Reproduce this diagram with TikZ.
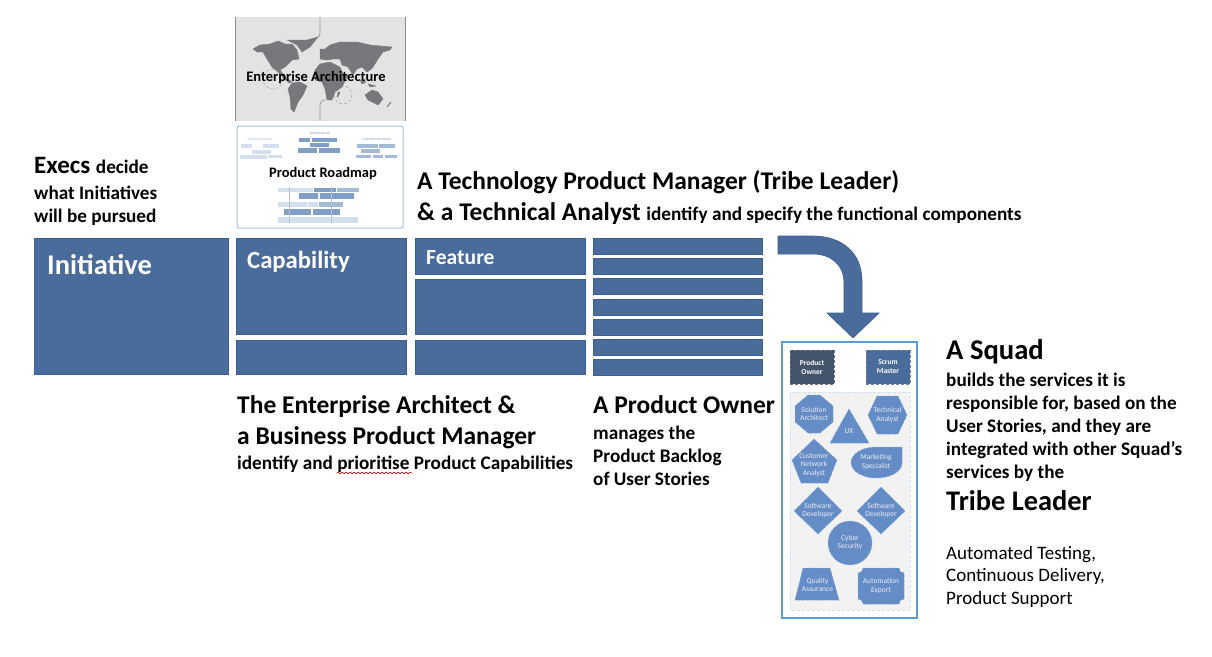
\documentclass[tikz,border=0pt]{standalone}
\usepackage{fontspec}
\setmainfont{Carlito}
\usetikzlibrary{decorations.pathmorphing}
\definecolor{blockblue}{HTML}{4A6C9B}
\definecolor{blockedge}{HTML}{3A5F9A}
\definecolor{rolefill}{HTML}{648DC8}
\definecolor{squadedge}{HTML}{5B9BD5}
\definecolor{paneledge}{HTML}{CFE2F3}
\definecolor{slate}{HTML}{44546A}
\definecolor{mapgrey}{HTML}{76787B}
\definecolor{roaddark}{HTML}{7F9FC6}
\definecolor{roadmid}{HTML}{A3BBD9}
\definecolor{roadlight}{HTML}{D3DFEE}
\begin{document}
\begin{tikzpicture}[x=1pt,y=-1pt,
    block/.style={draw=blockedge, fill=blockblue, line width=0.8pt, inner sep=0pt},
    blocktext/.style={text=white, font=\bfseries\fontsize{#1}{#1}\selectfont, inner sep=0pt, anchor=base west},
    say/.style={font=\bfseries\fontsize{#1}{#1}\selectfont, inner sep=0pt, anchor=base west},
    plain/.style={font=\fontsize{19}{19}\selectfont, inner sep=0pt, anchor=base west},
    land/.style={fill=mapgrey, draw=mapgrey, line width=0.4pt, line join=round},
    role/.style={draw=rolefill!80!white, fill=rolefill, densely dashed, line width=0.5pt},
    rolelabel/.style={text=white!92!black, font=\fontsize{7.5}{8.6}\selectfont, align=center, inner sep=0pt},
    lead/.style={draw=#1!80!white, densely dashed, fill=#1, minimum width=44pt, minimum height=34pt, inner sep=0pt,
        text=white, font=\bfseries\fontsize{7.5}{9}\selectfont, align=center}
]
\useasboundingbox (0,0) rectangle (1212,656);

% -------- Enterprise architecture map --------
\fill[black!11] (235,17) rectangle (405,121);
\draw[black!45, line width=0.8pt] (235,17) -- (235,121) (405,17) -- (405,121);
\draw[black!40, line width=0.8pt] (320,17) -- (320,33) .. controls (320,37) and (316,39) .. (312,40);
\draw[black!40, line width=0.8pt] (320,121) -- (320,105) .. controls (320,102) and (322,100) .. (325,100);
\fill[land] (253,49) -- (260,45) -- (270,44) -- (278,41) -- (285,44) -- (292,44) -- (297,50) -- (299,59) -- (292,60) -- (285,67) -- (280,70) -- (285,77) -- (292,82) -- (289,83) -- (278,72) -- (272,67) -- (267,59) -- (263,52) -- (257,52) -- cycle;
\fill[land] (287,40) -- (307,40) -- (318,37) -- (310,47) -- (302,52) -- (297,45) -- cycle;
\fill[land] (292,83) -- (300,82) -- (307,86) -- (303,95) -- (298,102) -- (294,112) -- (291,109) -- (290,97) -- (288,89) -- cycle;
\fill[land] (320,64) -- (330,62) -- (340,67) -- (343,74) -- (348,75) -- (342,87) -- (335,92) -- (332,100) -- (327,100) -- (325,89) -- (322,82) -- (315,80) -- (315,70) -- cycle;
\fill[land] (320,49) -- (325,49) -- (330,45) -- (340,42) -- (357,42) -- (370,45) -- (392,47) -- (390,50) -- (383,52) -- (378,59) -- (373,67) -- (370,70) -- (367,72) -- (362,67) -- (357,69) -- (353,75) -- (348,67) -- (342,65) -- (340,59) -- (333,59) -- (327,60) -- (320,59) -- cycle;
\fill[land] (365,95) -- (372,90) -- (378,92) -- (383,99) -- (378,105) -- (368,100) -- cycle;
\fill[land] (360,80) -- (366,82) -- (362,84) -- cycle;
\fill[land] (368,84) -- (376,86) -- (370,87) -- cycle;
\fill[land] (338,92) -- (340,92) -- (338,97) -- (337,97) -- cycle;
\draw[mapgrey, line width=1pt] (387,107) -- (391,102);
\draw[black!45, densely dashed, line width=0.3pt] (273,79) circle (10);
\draw[black!45, densely dashed, line width=0.3pt] (343,95) circle (9);
\node[say=14.5, anchor=center] (architecture) at (316,78) {Enterprise Architecture};

% -------- Product roadmap --------
\draw[paneledge!75!blockedge, fill=white, line width=1pt, rounded corners=2pt] (237,126) rectangle (403,228);
\foreach \xa/\ya/\xb/\yb in {241/144/252/148, 263/144/279/148, 252/150/271/154, 240/155/257/159, 257/155/267/159, 268/155/282/158,
    278/188/313/192, 278/202/307/207, 308/202/318/207, 278/217/358/223}
  \fill[roadlight] (\xa,\ya) rectangle (\xb,\yb);
\foreach \xa/\ya/\xb/\yb in {357/144/378/148, 379/144/395/148, 361/149/380/153, 356/155/371/158, 373/155/383/158, 385/155/397/158,
    337/188/359/192, 319/202/343/207}
  \fill[roadmid] (\xa,\ya) rectangle (\xb,\yb);
\foreach \xa/\ya/\xb/\yb in {299/138/310/142, 312/138/337/142, 310/143/329/147, 298/148/317/153, 319/148/340/153,
    314/188/336/192, 299/193/318/199, 320/193/354/199, 284/209/311/215, 313/209/340/215}
  \fill[roaddark] (\xa,\ya) rectangle (\xb,\yb);
\draw[black!25, line width=0.3pt] (289,187) -- (289,223) (331,187) -- (331,223);
\node[text=roaddark, font=\fontsize{3.2}{3.2}\selectfont, inner sep=0pt] (webroad) at (320,133) {WEB ROADMAP};
\node[text=roadmid, font=\fontsize{3.2}{3.2}\selectfont, inner sep=0pt] (mobileroad) at (260,139) {MOBILE ROADMAP};
\node[text=roaddark, font=\fontsize{3.2}{3.2}\selectfont, inner sep=0pt] (platformroad) at (377,139) {PLATFORM ROADMAP};
\node[say=14.5, anchor=center] (roadmap) at (323,174) {Product Roadmap};

% -------- Bloques --------
\node[block, minimum width=194pt, minimum height=136pt] (initiative) at (131,306) {};
\node[block, minimum width=170pt, minimum height=96pt] (capability) at (321,286) {};
\node[block, minimum width=170pt, minimum height=34pt] (capability2) at (321,357) {};
\node[block, minimum width=170pt, minimum height=36pt] (feature) at (500,256) {};
\node[block, minimum width=170pt, minimum height=55pt] (feature2) at (500,306.5) {};
\node[block, minimum width=170pt, minimum height=34pt] (feature3) at (500,357) {};
\foreach \y [count=\i] in {246,266,286,307,327,347,367}
  \node[block, minimum width=169pt, minimum height=16pt] (story\i) at (677.5,\y) {};

\node[blocktext=28.5] (initiativetext) at (47,274) {Initiative};
\node[blocktext=24.7] (capabilitytext) at (247,268) {Capability};
\node[blocktext=21.6] (featuretext) at (426,264) {Feature};

% -------- Flecha --------
\draw[draw=blockedge, fill=blockblue, line width=0.6pt] (778,236) -- (813,236) .. controls (841,236) and (862,252) .. (862,281) -- (862,313) -- (879,313) -- (853,338) -- (827,313) -- (844,313) -- (844,283) .. controls (844,264) and (830,254) .. (813,254) -- (778,254) -- cycle;

% -------- Textos --------
\node[say=25] (execs) at (34,173) {Execs \fontsize{19.2}{19.2}\selectfont decide};
\node[say=19.2] (execs2) at (34,199) {what Initiatives};
\node[say=19.2] (execs3) at (34,222) {will be pursued};

\node[say=25.5] (tribe) at (417,189) {A Technology Product Manager (Tribe Leader)};
\node[say=25.5] (analyst) at (417,220) {\& a Technical Analyst \fontsize{19.2}{19.2}\selectfont identify and specify the functional components};

\node[say=25.5] (architect) at (237,413) {The Enterprise Architect \&};
\node[say=25.5] (business) at (237,444) {a Business Product Manager};
\node[say=19.2] (prioritise) at (237,469) {identify and prioritise Product Capabilities};
\coordinate (wavystart) at (337,473);
\coordinate (wavyend) at (412,473);
\draw[red!80!black, line width=0.6pt, decorate, decoration={snake, amplitude=0.8pt, segment length=4pt}] (wavystart) -- (wavyend);

\node[say=25.5] (owner) at (593,413) {A Product Owner};
\node[say=19.2] (owner2) at (593,439) {manages the};
\node[say=19.2] (owner3) at (593,462) {Product Backlog};
\node[say=19.2] (owner4) at (593,485) {of User Stories};

\node[say=28.6] (squadtitle) at (946,359) {A Squad};
\foreach \y/\line [count=\i] in {386/builds the services it is, 409/{responsible for, based on the}, 432/{User Stories, and they are}, 455/integrated with other Squad’s, 478/services by the}
  \node[say=19.2] (squadtext\i) at (946,\y) {\line};
\node[say=28.4] (leader) at (946,510) {Tribe Leader};
\node[plain] (testing) at (946,559) {Automated Testing,};
\node[plain] (delivery) at (946,581) {Continuous Delivery,};
\node[plain] (support) at (946,604) {Product Support};

% -------- Squad --------
\draw[squadedge, fill=white, line width=1.6pt] (782,342) rectangle (917,618);
\draw[paneledge, fill=black!5, densely dashed, line width=0.8pt] (790,392) rectangle (910,610);
\node[lead=slate] (productowner) at (812,367) {Product\\Owner};
\node[lead=blockblue] (scrummaster) at (888,367) {Scrum\\Master};

\draw[role] (808,395) -- (820,395) -- (833,406) -- (833,422) -- (820,433) -- (808,433) -- (795,422) -- (795,406) -- cycle;
\node[rolelabel] (solution) at (814,414) {Solution\\Architect};
\draw[role] (877,396) -- (898,396) -- (907,415) -- (898,434) -- (877,434) -- (868,415) -- cycle;
\node[rolelabel] (technical) at (887.5,415) {Technical\\Analyst};
\draw[role] (849,409) -- (869,443) -- (830,443) -- cycle;
\node[rolelabel] (ux) at (849,431) {UX};
\draw[role] (814,439) -- (837,460) -- (828,483) -- (801,483) -- (792,460) -- cycle;
\node[rolelabel] (customer) at (814,465) {Customer\\Network\\Analyst};
\draw[role] (876,447) -- (902,447) -- (902,463) .. controls (902,472) and (890,478) .. (876,478) .. controls (862,478) and (851,471) .. (851,462.5) .. controls (851,454) and (862,447) .. (876,447) -- cycle;
\node[rolelabel] (marketing) at (876,462) {Marketing\\Specialist};
\draw[role] (818,487) -- (842,511) -- (818,534) -- (794,511) -- cycle;
\node[rolelabel] (developer1) at (818,510.5) {Software\\Developer};
\draw[role] (881,487) -- (905,511) -- (881,534) -- (857,511) -- cycle;
\node[rolelabel] (developer2) at (881,510.5) {Software\\Developer};
\draw[role] (850,543) circle (22);
\node[rolelabel] (cyber) at (850,542.5) {Cyber\\Security};
\draw[role] (803,568) -- (830,568) -- (839,600) -- (795,600) -- cycle;
\node[rolelabel] (quality) at (817.5,585) {Quality\\Assurance};
\draw[role] (863,568) -- (899,568) .. controls (899,571) and (901,573) .. (904,573) -- (904,599) .. controls (901,599) and (899,601) .. (899,604) -- (863,604) .. controls (863,601) and (861,599) .. (858,599) -- (858,573) .. controls (861,573) and (863,571) .. (863,568) -- cycle;
\node[rolelabel] (automation) at (881,586) {Automation\\Export};
\end{tikzpicture}
\end{document}
